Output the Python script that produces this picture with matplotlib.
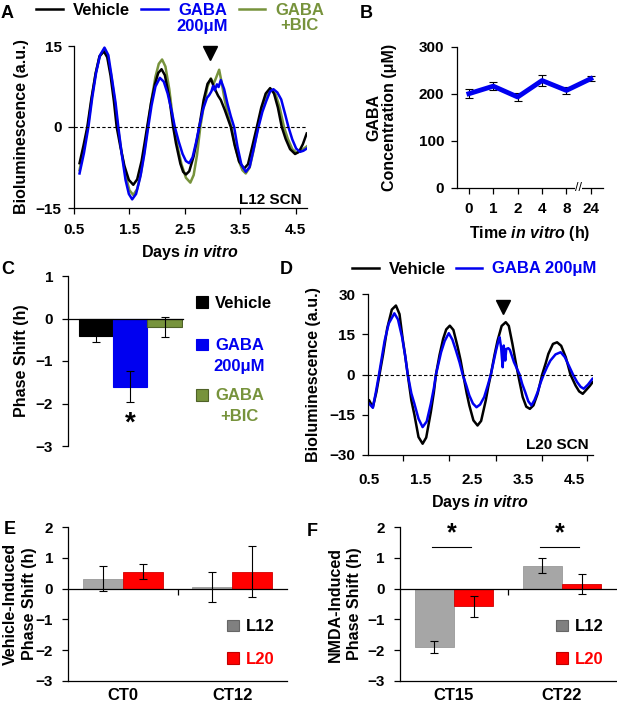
import matplotlib
matplotlib.use('Agg')
import matplotlib.pyplot as plt
from matplotlib.patches import Patch

plt.rcParams['font.family'] = ['Liberation Sans', 'DejaVu Sans']
plt.rcParams['font.weight'] = 'bold'
plt.rcParams['axes.labelweight'] = 'bold'
plt.rcParams['mathtext.fontset'] = 'custom'
plt.rcParams['mathtext.it'] = 'Liberation Sans:italic:bold'
plt.rcParams['mathtext.rm'] = 'Liberation Sans:bold'
plt.rcParams['axes.linewidth'] = 0.9

BLUE = '#0000F0'
GREEN = '#77933C'
GRAY = '#A6A6A6'
RED = '#FF0000'

# ---- panel A: L12 SCN bioluminescence traces ----
a_veh_days = [0.6, 0.67, 0.74, 0.81, 0.89, 0.96, 1.04, 1.10, 1.16, 1.22, 1.27, 1.34, 1.41, 1.49, 1.57,
              1.64, 1.72, 1.78, 1.82, 1.89, 1.96, 2.02, 2.08, 2.14, 2.22, 2.29, 2.34, 2.42, 2.47, 2.52,
              2.58, 2.66, 2.72, 2.76, 2.84, 2.91, 2.97, 3.03, 3.10, 3.15, 3.22, 3.33, 3.40, 3.48, 3.57,
              3.64, 3.72, 3.80, 3.88, 3.96, 4.04, 4.11, 4.18, 4.25, 4.32, 4.40, 4.49, 4.56, 4.63, 4.70]
a_veh = [-6.7, -3.5, 0, 5.0, 9.9, 13.1, 14.0, 12.9, 9.5, 4.8, 0, -3.8, -7.2, -9.8, -10.7,
         -9.7, -6.3, -2.6, 0, 4.4, 7.9, 10.0, 10.7, 9.6, 5.4, 0, -3.0, -6.8, -8.3, -8.8,
         -8.2, -5.4, -2.3, 0, 5.0, 8.0, 8.9, 7.3, 5.8, 5.0, 3.2, 0, -3.4, -6.4, -7.7,
         -6.9, -3.5, 0, 3.6, 6.2, 7.2, 6.2, 3.6, 0, -2.2, -4.1, -5.0, -4.6, -3.2, -1.2]

a_gaba_days = [0.6, 0.68, 0.76, 0.83, 0.90, 0.97, 1.05, 1.12, 1.19, 1.25, 1.30, 1.36, 1.43, 1.49, 1.55,
               1.62, 1.70, 1.77, 1.84, 1.90, 1.97, 2.05, 2.12, 2.19, 2.26, 2.32, 2.39, 2.46, 2.52, 2.58,
               2.64, 2.70, 2.76, 2.83, 2.90, 2.94, 2.98, 3.01, 3.04, 3.08, 3.11, 3.15, 3.21, 3.27, 3.33,
               3.39, 3.45, 3.52, 3.60, 3.67, 3.75, 3.83, 3.90, 3.97, 4.04, 4.10, 4.17, 4.24, 4.31, 4.37,
               4.44, 4.51, 4.58, 4.64, 4.70]
a_gaba = [-8.6, -4.8, 0, 5.5, 10.1, 13.3, 14.7, 13.3, 8.6, 4.5, 0, -4.9, -9.8, -12.4, -13.4,
          -12.4, -9.1, -5.0, 0, 4.0, 7.5, 9.1, 8.4, 6.2, 3.1, 0, -2.7, -5.0, -6.3, -6.7,
          -5.6, -3.0, 0, 3.3, 5.4, 5.9, 6.6, 7.6, 6.8, 7.9, 7.4, 8.7, 7.0, 4.3, 2.0,
          0, -3.6, -6.9, -8.3, -7.4, -3.7, 0, 2.8, 4.8, 6.6, 7.0, 6.4, 5.1, 2.4, 0,
          -2.3, -4.0, -4.6, -4.4, -4.0]

a_bic_days = [0.6, 0.67, 0.75, 0.82, 0.89, 0.96, 1.04, 1.10, 1.17, 1.23, 1.29, 1.36, 1.43, 1.50, 1.57,
              1.64, 1.71, 1.77, 1.83, 1.90, 1.97, 2.03, 2.09, 2.15, 2.22, 2.26, 2.30, 2.37, 2.44, 2.52,
              2.60, 2.66, 2.72, 2.78, 2.84, 2.91, 2.97, 3.02, 3.06, 3.12, 3.16, 3.22, 3.28, 3.34, 3.41,
              3.48, 3.54, 3.60, 3.67, 3.74, 3.82, 3.89, 3.96, 4.02, 4.07, 4.14, 4.21, 4.29, 4.36, 4.44,
              4.52, 4.61, 4.70]
a_bic = [-8.0, -4.3, 0, 5.3, 9.9, 13.0, 14.3, 13.3, 9.7, 5.3, 0, -4.7, -8.9, -11.7, -12.6,
         -11.5, -8.4, -4.5, 0, 5.1, 9.3, 11.7, 12.5, 11.2, 7.0, 3.6, 0, -3.7, -6.9, -9.4,
         -10.3, -8.9, -5.2, 0, 3.8, 7.5, 9.0, 8.0, 9.0, 10.6, 8.5, 5.0, 2.3, 0, -3.5,
         -6.4, -8.0, -8.6, -7.5, -4.4, 0, 3.0, 5.4, 6.6, 6.9, 6.0, 3.7, 0, -2.2, -4.1,
         -4.8, -4.3, -3.6]
a_stim = (2.95, 13.7)
a_xticks = [0.5, 1.5, 2.5, 3.5, 4.5]

# ---- panel B: GABA concentration ----
b_labels = ['0', '1', '2', '4', '8', '24']
b_conc = [200, 216, 193, 228, 207, 232]
b_err = [10, 9, 9, 12, 7, 5]

# ---- panel C: phase shift, L12 ----
c_groups = ['Vehicle', 'GABA\n200μM', 'GABA\n+BIC']
c_shift = [-0.42, -1.60, -0.20]
c_err = [0.13, 0.37, 0.23]
c_colors = ['black', BLUE, GREEN]
c_edges = ['black', BLUE, '#4F6228']

# ---- panel D: L20 SCN bioluminescence traces ----
d_veh_days = [0.5, 0.57, 0.64, 0.70, 0.77, 0.85, 0.94, 1.02, 1.09, 1.15, 1.20, 1.25, 1.32, 1.38, 1.46,
              1.54, 1.61, 1.70, 1.76, 1.80, 1.87, 1.94, 2.00, 2.07, 2.14, 2.22, 2.28, 2.33, 2.40, 2.45,
              2.53, 2.61, 2.68, 2.77, 2.82, 2.87, 2.94, 3.00, 3.08, 3.16, 3.22, 3.29, 3.35, 3.40, 3.49,
              3.56, 3.63, 3.70, 3.78, 3.83, 3.87, 3.94, 3.99, 4.08, 4.16, 4.24, 4.33, 4.38, 4.42, 4.52,
              4.59, 4.66, 4.74, 4.80, 4.85]
d_veh = [-9.7, -12.2, -6.5, 0, 7.5, 17.2, 24.2, 25.7, 22.5, 13.5, 7.0, 0, -9.6, -15.0, -23.3,
         -25.8, -23.5, -14.0, -6.5, 0, 7.3, 13.3, 16.8, 18.2, 16.6, 10.5, 5.3, 0, -7.1, -11.5,
         -17.1, -19.0, -17.3, -9.7, -4.5, 0, 7.2, 12.6, 18.1, 19.5, 18.1, 11.4, 5.0, 0, -8.4,
         -12.0, -12.8, -11.5, -7.2, -3.2, 0, 4.3, 7.7, 11.4, 12.0, 10.7, 6.4, 2.9, 0, -4.1,
         -6.3, -7.2, -5.5, -4.2, -2.9]

d_gaba_days = [0.5, 0.57, 0.63, 0.69, 0.80, 0.88, 0.99, 1.06, 1.14, 1.20, 1.25, 1.32, 1.38, 1.46, 1.54,
               1.62, 1.70, 1.76, 1.80, 1.90, 1.97, 2.05, 2.12, 2.19, 2.26, 2.32, 2.39, 2.45, 2.52, 2.59,
               2.66, 2.74, 2.81, 2.87, 2.92, 2.97, 3.01, 3.04, 3.07, 3.10, 3.12, 3.15, 3.17, 3.21, 3.24,
               3.32, 3.43, 3.48, 3.54, 3.60, 3.66, 3.72, 3.78, 3.84, 3.90, 3.97, 4.03, 4.13, 4.23, 4.31,
               4.39, 4.47, 4.55, 4.62, 4.68, 4.76, 4.85]
d_gaba = [-10.9, -12.4, -6.5, 0, 12.6, 19.0, 22.8, 20.5, 13.9, 7.0, 0, -7.0, -10.9, -16.5, -19.6,
          -17.5, -10.9, -5.0, 0, 8.3, 12.5, 15.4, 13.0, 8.9, 4.5, 0, -4.0, -7.8, -10.8, -12.2,
          -11.2, -8.4, -4.0, 0, 4.5, 8.9, 12.0, 13.9, 10.0, 2.7, 10.8, 5.2, 9.5, 9.8, 9.2,
          4.6, 0, -3.5, -6.6, -10.0, -11.5, -9.5, -6.6, -3.0, 0, 3.0, 5.2, 7.5, 8.3, 6.5,
          3.3, 0, -2.8, -4.6, -5.3, -3.8, -1.6]
d_stim = (3.11, 25.0)
d_xticks = [0.5, 1.5, 2.5, 3.5, 4.5]
d_tickmarks = [1.16, 2.05, 2.97, 3.86, 4.75]

# ---- panels E, F: L12 vs L20 phase shifts ----
e_cats = ['CT0', 'CT12']
e_l12 = [0.33, 0.05]
e_l12_err = [0.41, 0.50]
e_l20 = [0.55, 0.55]
e_l20_err = [0.25, 0.83]

f_cats = ['CT15', 'CT22']
f_l12 = [-1.90, 0.75]
f_l12_err = [0.21, 0.24]
f_l20 = [-0.58, 0.15]
f_l20_err = [0.35, 0.34]
f_sig_y = 1.35

W, H = 617, 703
fig = plt.figure(figsize=(W / 100, H / 100), dpi=100)


def rect(l, t, r, b):
    return [l / W, 1 - b / H, (r - l) / W, (b - t) / H]


def style(ax):
    ax.spines['top'].set_visible(False)
    ax.spines['right'].set_visible(False)
    ax.tick_params(direction='out', length=4, width=0.9, labelsize=11, pad=5)


def ylabel_at(ax, text, box, cx, spacing=1.2):
    ax.set_ylabel(text, fontsize=11.5, va='center', multialignment='center', linespacing=spacing)
    ax.yaxis.set_label_coords((cx - box[0]) / (box[2] - box[0]), 0.5)


def xlabel_at(ax, text, box, cy):
    ax.set_xlabel(text, fontsize=11.5, va='center')
    ax.xaxis.set_label_coords(0.5, (box[3] - cy) / (box[3] - box[1]))


def letter(x, y, s):
    fig.text(x / W, 1 - y / H, s, fontsize=13, ha='center', va='center')


# ---------------- A ----------------
boxA = (74, 46, 306.7, 208)
axA = fig.add_axes(rect(*boxA))
style(axA)
lb, = axA.plot(a_bic_days, a_bic, color=GREEN, lw=1.8)
lv, = axA.plot(a_veh_days, a_veh, color='black', lw=1.8)
lg, = axA.plot(a_gaba_days, a_gaba, color=BLUE, lw=1.8)
axA.axhline(0, color='black', lw=0.8, ls=(0, (3, 2)))
axA.plot(*a_stim, marker='v', ms=10, color='black', clip_on=False)
axA.set_xlim(0.5, 4.7)
axA.set_ylim(-15, 15)
axA.set_yticks([-15, 0, 15])
axA.set_xticks(a_xticks)
axA.tick_params(axis='x', pad=7)
axA.text(0.98, 0.05, 'L12 SCN', transform=axA.transAxes, ha='right', va='center', fontsize=11)
ylabel_at(axA, 'Bioluminescence (a.u.)', boxA, 22)
xlabel_at(axA, r'Days $\mathit{in\ vitro}$', boxA, 253)

legA = fig.legend(handles=[lv, lg, lb], labels=['Vehicle', 'GABA', 'GABA'], ncol=3,
                  loc='upper left', bbox_to_anchor=(36 / W, 1 - 3 / H), frameon=False,
                  fontsize=12, handlelength=1.6, handletextpad=0.6, columnspacing=0.7,
                  borderaxespad=0, borderpad=0)
for t, c in zip(legA.get_texts(), ['black', BLUE, GREEN]):
    t.set_color(c)

# ---------------- B ----------------
boxB = (456.7, 46.7, 603, 187.7)
axB = fig.add_axes(rect(*boxB))
style(axB)
bx = list(range(len(b_labels)))
axB.errorbar(bx, b_conc, yerr=b_err, fmt='none', ecolor='black', elinewidth=0.8, capsize=3,
             capthick=0.8, zorder=2)
axB.plot(bx, b_conc, color=BLUE, lw=3.5, zorder=3)
axB.set_xlim(-0.5, 5.5)
axB.set_ylim(0, 300)
axB.set_yticks([0, 100, 200, 300])
axB.set_xticks(bx)
axB.set_xticklabels(b_labels)
axB.tick_params(axis='x', pad=6)
axB.text(4.5, 0, '//', ha='center', va='center', fontsize=9, fontweight='normal',
         transform=axB.transData, clip_on=False,
         bbox=dict(fc='white', ec='none', pad=0.3))
ylabel_at(axB, 'GABA\nConcentration (μM)', boxB, 382, spacing=1.05)
xlabel_at(axB, r'Time $\mathit{in\ vitro}$ (h)', boxB, 233)

# ---------------- C ----------------
boxC = (68.3, 276, 183, 446)
axC = fig.add_axes(rect(*boxC))
style(axC)
cx = list(range(len(c_shift)))
axC.bar(cx, c_shift, width=1.0, color=c_colors, edgecolor=c_edges, lw=0.8,
        yerr=c_err, ecolor='black', error_kw=dict(elinewidth=0.8, capsize=3, capthick=0.8))
axC.spines['bottom'].set_position(('data', 0))
axC.set_xticks([])
axC.set_xlim(-0.82, 2.54)
axC.set_ylim(-3, 1)
axC.set_yticks([-3, -2, -1, 0, 1])
axC.tick_params(axis='y', pad=7)
axC.text(1, c_shift[1] - c_err[1] - 0.2, '*', ha='center', va='top', fontsize=20)
ylabel_at(axC, 'Phase Shift (h)', boxC, 22)


def square_legend(label, face, edge, tcolor, x, y):
    leg = fig.legend(handles=[Patch(facecolor=face, edgecolor=edge, lw=0.8)], labels=[label],
                     loc='center left', bbox_to_anchor=(x / W, 1 - y / H), frameon=False,
                     fontsize=12, handlelength=0.7, handleheight=0.7, handletextpad=0.45,
                     borderaxespad=0, borderpad=0)
    leg.get_texts()[0].set_color(tcolor)
    return leg


legC = [square_legend(g.split('\n')[0], c, e, c, 196, y)
        for g, c, e, y in zip(c_groups, c_colors, c_edges, [303, 346, 396])]

# ---------------- D ----------------
boxD = (367.7, 294, 593, 455)
axD = fig.add_axes(rect(*boxD))
style(axD)
dv, = axD.plot(d_veh_days, d_veh, color='black', lw=1.8)
dg, = axD.plot(d_gaba_days, d_gaba, color=BLUE, lw=1.8)
axD.axhline(0, color='black', lw=0.8, ls=(0, (3, 2)))
axD.plot(*d_stim, marker='v', ms=10, color='black', clip_on=False)
axD.set_xlim(0.47, 4.86)
axD.set_ylim(-30, 30)
axD.set_yticks([-30, -15, 0, 15, 30])
axD.set_xticks(d_xticks)
axD.set_xticks(d_tickmarks, minor=True)
axD.tick_params(axis='x', which='major', length=0, pad=13)
axD.tick_params(axis='x', which='minor', direction='out', length=4, width=0.9)
axD.text(0.98, 0.06, 'L20 SCN', transform=axD.transAxes, ha='right', va='center', fontsize=11)
ylabel_at(axD, 'Bioluminescence (a.u.)', boxD, 314)
xlabel_at(axD, r'Days $\mathit{in\ vitro}$', boxD, 503)
legD = fig.legend(handles=[dv, dg], labels=['Vehicle', 'GABA 200μM'], ncol=2,
                  loc='center left', bbox_to_anchor=(352 / W, 1 - 269 / H), frameon=False,
                  fontsize=12, handlelength=1.6, handletextpad=0.6, columnspacing=0.6,
                  borderaxespad=0, borderpad=0)
for t, c in zip(legD.get_texts(), ['black', BLUE]):
    t.set_color(c)


# ---------------- E, F ----------------
def shift_panel(box, cats, l12, l12e, l20, l20e, ylab, ycx, legx):
    ax = fig.add_axes(rect(*box))
    style(ax)
    x = list(range(len(cats)))
    w = 0.364
    ekw = dict(elinewidth=0.8, capsize=3, capthick=0.8)
    ax.bar([i - w / 2 for i in x], l12, width=w, color=GRAY, edgecolor='#999999', lw=0.6,
           yerr=l12e, ecolor='black', error_kw=ekw)
    ax.bar([i + w / 2 for i in x], l20, width=w, color=RED, edgecolor='#D00000', lw=0.6,
           yerr=l20e, ecolor='black', error_kw=ekw)
    ax.spines['bottom'].set_position(('data', 0))
    ax.set_xticks([0.5])
    ax.set_xticklabels([''])
    ax.set_xlim(-0.5, 1.5)
    ax.set_ylim(-3, 2)
    ax.set_yticks([-3, -2, -1, 0, 1, 2])
    ax.tick_params(axis='y', pad=7)
    sec = ax.secondary_xaxis('bottom')
    sec.set_xticks(x)
    sec.set_xticklabels(cats, fontsize=12)
    sec.tick_params(length=0, pad=5)
    sec.spines['bottom'].set_linewidth(0.9)
    ylabel_at(ax, ylab, box, ycx, spacing=1.3)
    square_legend('L12', '#808080', '#666666', 'black', legx, box[1] + 99.4)
    square_legend('L20', RED, '#C00000', RED, legx, box[1] + 131.7)
    return ax


boxE = (68.3, 527.3, 286.7, 680.7)
axE = shift_panel(boxE, e_cats, e_l12, e_l12_err, e_l20, e_l20_err,
                  'Vehicle-Induced\nPhase Shift (h)', 20, 227)

boxF = (400, 527.3, 616, 680.7)
axF = shift_panel(boxF, f_cats, f_l12, f_l12_err, f_l20, f_l20_err,
                  'NMDA-Induced\nPhase Shift (h)', 345, 556)
for i in range(len(f_cats)):
    axF.plot([i - 0.2, i + 0.16], [f_sig_y, f_sig_y], color='black', lw=0.8)
    axF.text(i - 0.02, f_sig_y + 0.05, '*', ha='center', va='bottom', fontsize=18)

# second lines of the two-line legend entries
fig.canvas.draw()
rend = fig.canvas.get_renderer()


def second_line(text_obj, s, color, dy):
    bb = text_obj.get_window_extent(rend)
    fig.text((bb.x0 + bb.x1) / 2 / W, ((bb.y0 + bb.y1) / 2 - dy) / H, s, ha='center',
             va='center_baseline', fontsize=12, color=color)


second_line(legA.get_texts()[1], '200μM', BLUE, 14)
second_line(legA.get_texts()[2], '+BIC', GREEN, 14)
second_line(legC[1].get_texts()[0], '200μM', BLUE, 19)
second_line(legC[2].get_texts()[0], '+BIC', GREEN, 19)

letter(7, 14, 'A')
letter(366, 13, 'B')
letter(8, 270, 'C')
letter(286, 270, 'D')
letter(10, 529, 'E')
letter(312, 532, 'F')

fig.savefig('out.png', dpi=100)
